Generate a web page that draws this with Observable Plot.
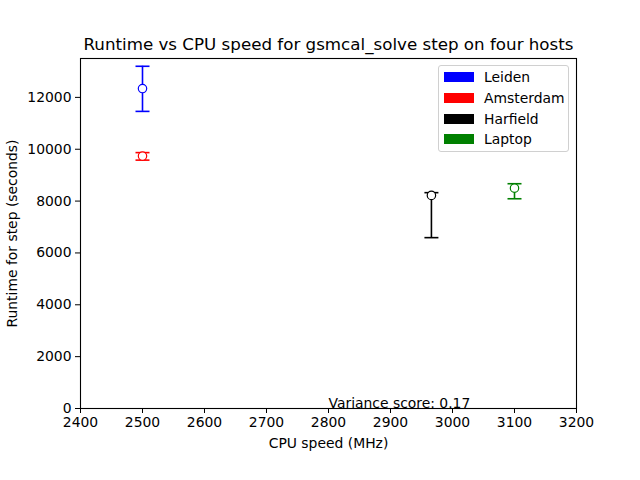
<!DOCTYPE html>
<html>
<head>
<meta charset="utf-8">
<script src="https://cdn.jsdelivr.net/npm/d3@7"></script>
<script src="https://cdn.jsdelivr.net/npm/@observablehq/plot@0.6"></script>
<style>
  body { margin: 0; background: white; }
  #wrap { position: relative; width: 640px; height: 480px; font-family: "DejaVu Sans", sans-serif; }
  #legend { position: absolute; left: 438px; top: 65px; width: 131px; height: 87px;
    border: 1px solid #d0d0d0; border-radius: 3px; background: rgba(255,255,255,0.8); box-sizing: border-box; }
  .row { position: absolute; left: 5px; height: 16px; display: flex; align-items: center; font-size: 13.9px; color: black; }
  .sw { width: 30px; height: 10px; margin-right: 10px; }
</style>
</head>
<body>
<div id="wrap"></div>
<script>
const hosts = ["Leiden", "Amsterdam", "Harfield", "Laptop"];
const colors = ["blue", "red", "black", "green"];
const cpuSpeed = [2500, 2500, 2966, 3100];
const runtime = [12340, 9735, 8220, 8500];
const runtimeLow = [11460, 9580, 6590, 8090];
const runtimeHigh = [13200, 9870, 8325, 8670];
const xTicks = [2400, 2500, 2600, 2700, 2800, 2900, 3000, 3100, 3200];
const yTicks = [0, 2000, 4000, 6000, 8000, 10000, 12000];
const title = "Runtime vs CPU speed for gsmcal_solve step on four hosts";
const xLabel = "CPU speed (MHz)";
const yLabel = "Runtime for step (seconds)";
const note = "Variance score: 0.17";

const data = hosts.map((h, i) => ({host: h, color: colors[i], x: cpuSpeed[i], y: runtime[i], lo: runtimeLow[i], hi: runtimeHigh[i]}));

const cap = {draw(ctx, size) { const r = 7; ctx.moveTo(-r, 0); ctx.lineTo(r, 0); }};
const fs = 13.9;

const chart = Plot.plot({
  width: 640, height: 480,
  marginLeft: 80, marginRight: 64, marginTop: 58, marginBottom: 72,
  style: {fontFamily: "DejaVu Sans", fontSize: fs + "px", background: "white", color: "black"},
  x: {domain: [2400, 3200]},
  y: {domain: [0, 13500]},
  color: {type: "identity"},
  marks: [
    Plot.axisX({ticks: xTicks, tickSize: 5, tickPadding: 4, tickFormat: d => String(d), label: null, fontSize: fs}),
    Plot.axisY({ticks: yTicks, tickSize: 5, tickPadding: 4, tickFormat: d => String(d), label: null, fontSize: fs}),
    Plot.ruleX(data, {x: "x", y1: "lo", y2: "hi", stroke: "color", strokeWidth: 1.6}),
    Plot.dot(data, {x: "x", y: "lo", symbol: cap, fill: "none", stroke: "color", strokeWidth: 1.6}),
    Plot.dot(data, {x: "x", y: "hi", symbol: cap, fill: "none", stroke: "color", strokeWidth: 1.6}),
    Plot.dot(data, {x: "x", y: "y", r: 4.2, fill: "white", stroke: "color", strokeWidth: 1.2}),
    Plot.text([note], {x: 2800, y: 0, text: d => d, textAnchor: "start", lineAnchor: "bottom", dy: -1, fontSize: fs, fill: "black"}),
    Plot.frame({stroke: "black", strokeWidth: 1.1}),
    Plot.text([title], {frameAnchor: "top", text: d => d, lineAnchor: "middle", dy: -14, fontSize: 16.7, fill: "black"}),
    Plot.text([xLabel], {frameAnchor: "bottom", text: d => d, lineAnchor: "middle", dy: 35, fontSize: fs, fill: "black"}),
    Plot.text([yLabel], {frameAnchor: "left", text: d => d, textAnchor: "middle", lineAnchor: "middle", rotate: -90, dx: -68, fontSize: fs, fill: "black"})
  ]
});

const wrap = document.getElementById("wrap");
wrap.appendChild(chart);
const legend = document.createElement("div");
legend.id = "legend";
hosts.forEach((h, i) => {
  const row = document.createElement("div");
  row.className = "row";
  row.style.top = (3 + i * 20.8) + "px";
  const sw = document.createElement("span");
  sw.className = "sw";
  sw.style.background = colors[i];
  const t = document.createElement("span");
  t.textContent = h;
  row.appendChild(sw); row.appendChild(t);
  legend.appendChild(row);
});
wrap.appendChild(legend);
</script>
</body>
</html>
